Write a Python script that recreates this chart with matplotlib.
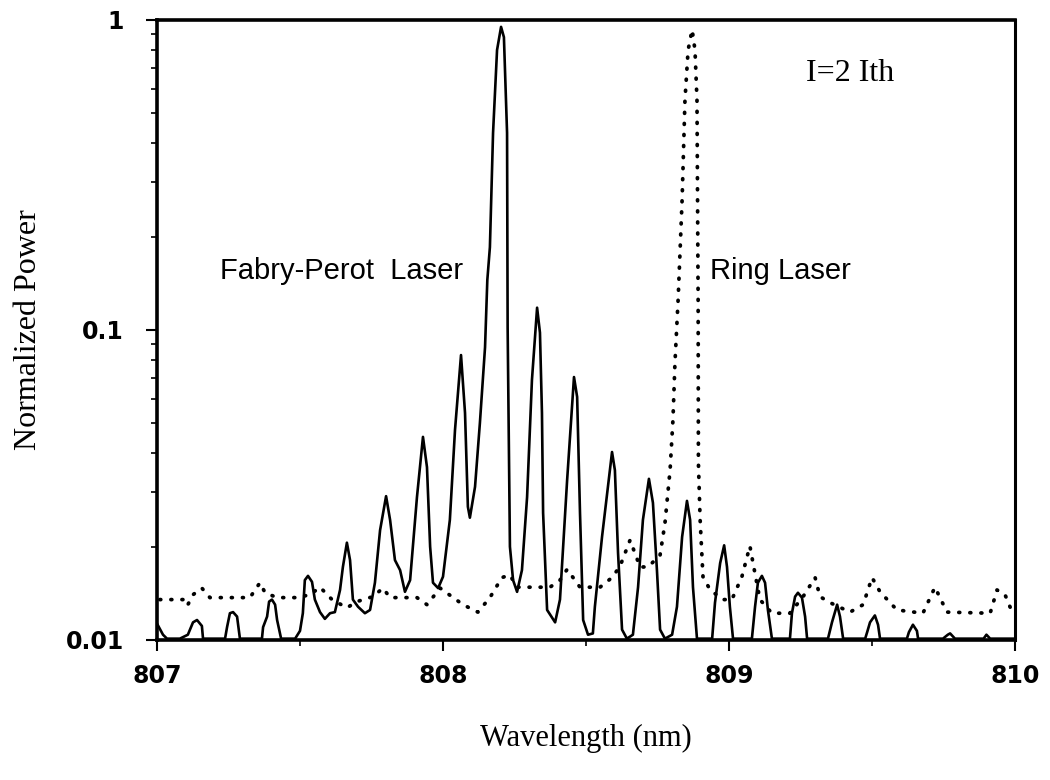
import matplotlib
matplotlib.use("Agg")
import matplotlib.pyplot as plt
from matplotlib.ticker import LogLocator, NullFormatter, FixedLocator

# Fabry-Perot laser spectrum (solid), digitized vertices
fp_wavelength = [
    807.000, 807.021, 807.035, 807.080, 807.108, 807.126, 807.140, 807.157, 807.161,
    807.238, 807.245, 807.255, 807.266, 807.280, 807.290,
    807.367, 807.371, 807.385, 807.392, 807.402, 807.413, 807.420, 807.434,
    807.483, 807.500, 807.510, 807.517, 807.528, 807.542, 807.552, 807.570, 807.587,
    807.605, 807.622, 807.640, 807.650, 807.664, 807.675, 807.685, 807.703, 807.727,
    807.745, 807.762, 807.780, 807.801, 807.815, 807.832, 807.850, 807.867, 807.885,
    807.909, 807.930, 807.944, 807.955, 807.965, 807.983, 808.000, 808.024,
    808.042, 808.063, 808.077, 808.087, 808.094, 808.112, 808.129, 808.147, 808.155,
    808.164, 808.175, 808.189, 808.203, 808.213, 808.224, 808.226, 808.229, 808.234,
    808.245, 808.259, 808.276, 808.294,
    808.311, 808.329, 808.339, 808.346, 808.350, 808.364, 808.392, 808.409,
    808.434, 808.458, 808.469, 808.479, 808.490, 808.507, 808.524, 808.531, 808.556,
    808.591, 808.601, 808.612, 808.626, 808.643, 808.664, 808.682, 808.699,
    808.720, 808.734, 808.748, 808.759, 808.776, 808.801, 808.818, 808.836,
    808.853, 808.864, 808.874, 808.888, 808.941,
    808.951, 808.969, 808.983, 808.993, 809.003, 809.014, 809.080,
    809.091, 809.101, 809.115, 809.126, 809.136, 809.150, 809.213,
    809.220, 809.231, 809.241, 809.255, 809.266, 809.273, 809.346,
    809.360, 809.378, 809.388, 809.399, 809.476,
    809.483, 809.493, 809.510, 809.521, 809.528, 809.622,
    809.629, 809.643, 809.657, 809.661, 809.748,
    809.765, 809.773, 809.790, 809.890, 809.900, 809.913, 810.000,
]
fp_power = [
    0.0113, 0.0104, 0.0101, 0.0101, 0.0104, 0.0114, 0.0116, 0.0111, 0.0101,
    0.0101, 0.0110, 0.0122, 0.0123, 0.0119, 0.0101,
    0.0101, 0.0110, 0.0119, 0.0133, 0.0135, 0.0130, 0.0116, 0.0101,
    0.0101, 0.0107, 0.0122, 0.0156, 0.0161, 0.0154, 0.0135, 0.0123, 0.0117,
    0.0122, 0.0123, 0.0145, 0.0172, 0.0206, 0.0181, 0.0135, 0.0128, 0.0122,
    0.0125, 0.0153, 0.0226, 0.0291, 0.0244, 0.0181, 0.0168, 0.0143, 0.0156,
    0.0289, 0.0452, 0.0361, 0.0200, 0.0153, 0.0147, 0.0160, 0.0244,
    0.0476, 0.0830, 0.0540, 0.0269, 0.0248, 0.0312, 0.0501, 0.0880, 0.1450,
    0.1850, 0.4320, 0.8000, 0.9500, 0.8800, 0.4320, 0.1020, 0.0540, 0.0200,
    0.0156, 0.0143, 0.0168, 0.0289,
    0.0690, 0.1180, 0.0980, 0.0540, 0.0257, 0.0125, 0.0114, 0.0135,
    0.0328, 0.0705, 0.0608, 0.0257, 0.0116, 0.0104, 0.0105, 0.0128, 0.0215,
    0.0404, 0.0353, 0.0191, 0.0108, 0.0101, 0.0104, 0.0148, 0.0244,
    0.0331, 0.0277, 0.0168, 0.0108, 0.0101, 0.0104, 0.0128, 0.0215,
    0.0281, 0.0244, 0.0148, 0.0101, 0.0101,
    0.0132, 0.0177, 0.0202, 0.0172, 0.0128, 0.0101, 0.0101,
    0.0128, 0.0153, 0.0161, 0.0153, 0.0125, 0.0101, 0.0101,
    0.0122, 0.0138, 0.0142, 0.0137, 0.0119, 0.0101, 0.0101,
    0.0114, 0.0130, 0.0119, 0.0101, 0.0101,
    0.0106, 0.0114, 0.0120, 0.0112, 0.0101, 0.0101,
    0.0106, 0.0112, 0.0107, 0.0101, 0.0101,
    0.0104, 0.0105, 0.0101, 0.0101, 0.0104, 0.0101, 0.0101,
]

# Ring laser spectrum (dotted), digitized vertices
ring_wavelength = [
    807.010, 807.105, 807.108, 807.126, 807.157, 807.185, 807.325, 807.360, 807.378,
    807.420, 807.490, 807.535, 807.570, 807.612, 807.664, 807.699, 807.755, 807.790,
    807.815, 807.909, 807.944, 807.990, 808.031, 808.070, 808.122, 808.164, 808.206,
    808.234, 808.259, 808.374, 808.409, 808.434, 808.479, 808.549, 808.591, 808.619,
    808.654, 808.689, 808.717, 808.759, 808.776, 808.794, 808.804, 808.811, 808.822,
    808.836, 808.846, 808.857, 808.871, 808.881, 808.888, 808.892, 808.893, 808.899,
    808.909, 808.934, 808.979, 809.010, 809.045, 809.073, 809.084, 809.108, 809.150,
    809.213, 809.259, 809.301, 809.318, 809.353, 809.423, 809.469, 809.500, 809.528,
    809.587, 809.678, 809.720, 809.762, 809.913, 809.937, 809.965, 809.990,
]
ring_power = [
    0.0135, 0.0135, 0.0130, 0.0140, 0.0147, 0.0137, 0.0137, 0.0153, 0.0142,
    0.0137, 0.0137, 0.0140, 0.0148, 0.0135, 0.0127, 0.0133, 0.0138, 0.0147,
    0.0137, 0.0137, 0.0130, 0.0147, 0.0138, 0.0130, 0.0123, 0.0137, 0.0159,
    0.0162, 0.0148, 0.0148, 0.0156, 0.0169, 0.0148, 0.0148, 0.0159, 0.0173,
    0.0210, 0.0172, 0.0172, 0.0188, 0.0238, 0.0354, 0.0513, 0.0783, 0.1250,
    0.2630, 0.5520, 0.8000, 0.9300, 0.8000, 0.5520, 0.1250, 0.0372, 0.0244,
    0.0160, 0.0145, 0.0135, 0.0135, 0.0160, 0.0201, 0.0177, 0.0135, 0.0122,
    0.0122, 0.0138, 0.0159, 0.0138, 0.0132, 0.0123, 0.0130, 0.0159, 0.0143,
    0.0125, 0.0122, 0.0148, 0.0123, 0.0122, 0.0145, 0.0140, 0.0123,
]

x_ticks = [807, 808, 809, 810]
x_tick_labels = ["807", "808", "809", "810"]
y_ticks = [0.01, 0.1, 1]
y_tick_labels = ["0.01", "0.1", "1"]

fig = plt.figure(figsize=(10.5, 7.8), dpi=100)
ax = fig.add_axes([0.1495, 0.1795, 0.8172, 0.7949])

ax.plot(fp_wavelength, fp_power, color="black", linewidth=1.9,
        solid_joinstyle="round", solid_capstyle="round")
ax.plot(ring_wavelength, ring_power, color="black", linewidth=2.7,
        linestyle=(0, (0.25, 2.7)), dash_capstyle="round")

ax.set_yscale("log")
ax.set_xlim(807, 810)
ax.set_ylim(0.01, 1)

ax.xaxis.set_major_locator(FixedLocator(x_ticks))
ax.set_xticklabels(x_tick_labels)
ax.xaxis.set_minor_locator(FixedLocator([807.5, 808.5, 809.5]))
ax.yaxis.set_major_locator(FixedLocator(y_ticks))
ax.set_yticklabels(y_tick_labels)
ax.yaxis.set_minor_locator(LogLocator(base=10, subs=range(2, 10)))
ax.yaxis.set_minor_formatter(NullFormatter())

for lab in ax.get_xticklabels() + ax.get_yticklabels():
    lab.set_fontfamily("DejaVu Sans")
    lab.set_fontweight("bold")
    lab.set_fontsize(17)

ax.tick_params(axis="x", which="major", direction="out", length=8, width=1.5, pad=9)
ax.tick_params(axis="x", which="minor", direction="out", length=4, width=1.2)
ax.tick_params(axis="y", which="major", direction="out", length=8, width=1.5, pad=16)
ax.tick_params(axis="y", which="minor", direction="out", length=4, width=1.2)

for side in ["left", "bottom", "top"]:
    ax.spines[side].set_linewidth(2.6)
ax.spines["right"].set_linewidth(2.2)

ax.set_xlabel("Wavelength (nm)", fontfamily="Liberation Serif", fontsize=22, labelpad=26)
ax.set_ylabel("Normalized Power", fontfamily="Liberation Serif", fontsize=23, labelpad=16)

ax.text(807.22, 0.155, "Fabry-Perot  Laser", fontfamily="Liberation Sans",
        fontsize=21, va="center", ha="left")
ax.text(808.934, 0.155, "Ring Laser", fontfamily="Liberation Sans",
        fontsize=21, va="center", ha="left")
ax.text(809.27, 0.67, "I=2 Ith", fontfamily="Liberation Serif",
        fontsize=23, va="center", ha="left")

fig.savefig("out.png", dpi=100, facecolor="white")
